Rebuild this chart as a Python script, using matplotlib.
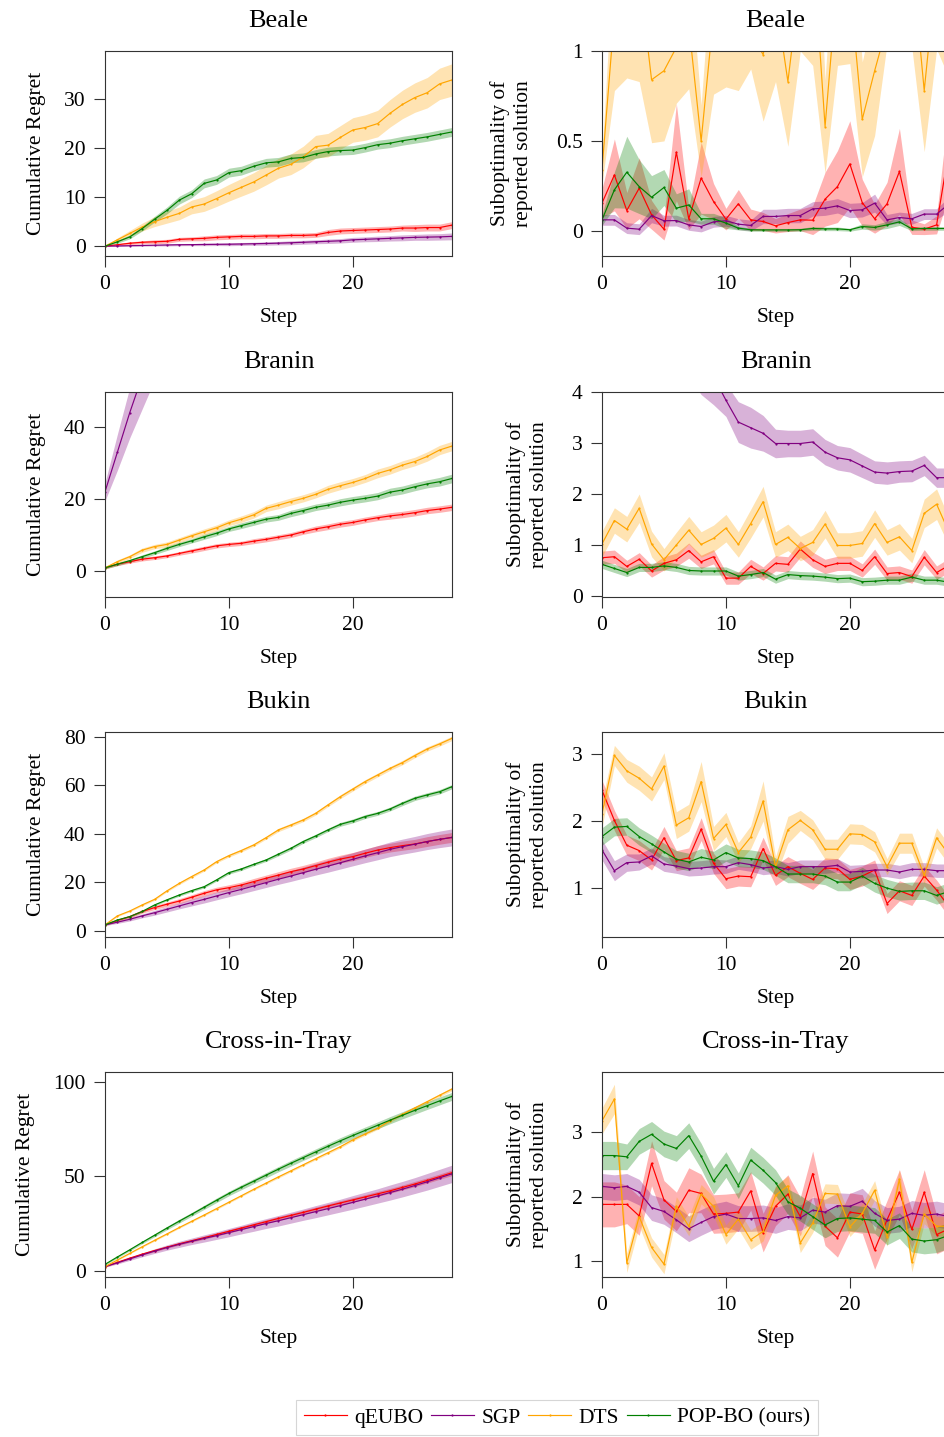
import numpy as np
import matplotlib
matplotlib.use("Agg")
from matplotlib import pyplot as plt

plt.rcParams['font.family'] = ['Liberation Serif', 'DejaVu Serif']
plt.rcParams['mathtext.fontset'] = 'stix'

steps = list(range(29))
methods = ['qEUBO', 'SGP', 'DTS', 'POP-BO (ours)']
colors = ['red', 'purple', 'orange', 'green']

# ---- Beale ----
beale_reg_qeubo = [0, 0.3, 0.6, 0.8, 0.9, 1.0, 1.4, 1.5, 1.6, 1.8, 1.9, 2.0, 2.0, 2.1, 2.1, 2.2, 2.2, 2.3, 2.8, 3.1, 3.2, 3.3, 3.4, 3.5, 3.7, 3.7, 3.8, 3.8, 4.3]
beale_reg_qeubo_sd = [0, 0.2, 0.3, 0.3, 0.4, 0.4, 0.4, 0.4, 0.5, 0.5, 0.5, 0.5, 0.5, 0.5, 0.5, 0.5, 0.5, 0.5, 0.6, 0.6, 0.6, 0.6, 0.6, 0.6, 0.6, 0.7, 0.7, 0.7, 0.7]
beale_reg_sgp = [0, 0.05, 0.1, 0.15, 0.2, 0.25, 0.3, 0.32, 0.35, 0.38, 0.4, 0.45, 0.5, 0.55, 0.62, 0.7, 0.8, 0.9, 1.0, 1.1, 1.3, 1.4, 1.5, 1.6, 1.7, 1.8, 1.85, 1.9, 2.0]
beale_reg_sgp_sd = [0, 0.1, 0.1, 0.15, 0.15, 0.2, 0.2, 0.2, 0.25, 0.25, 0.3, 0.3, 0.3, 0.35, 0.35, 0.4, 0.4, 0.4, 0.45, 0.45, 0.5, 0.5, 0.55, 0.55, 0.6, 0.6, 0.65, 0.65, 0.7]
beale_reg_dts = [0, 1.3, 2.6, 3.9, 5.0, 5.9, 6.7, 8.0, 8.6, 9.7, 10.9, 12.0, 13.1, 14.5, 15.9, 16.7, 18.2, 20.3, 20.6, 22.2, 23.7, 24.2, 25.0, 27.1, 28.9, 30.3, 31.3, 33.1, 33.9]
beale_reg_dts_sd = [0, 0.4, 0.6, 0.8, 1.0, 1.2, 1.3, 1.4, 1.5, 1.6, 1.7, 1.8, 1.9, 2.0, 2.0, 2.1, 2.2, 2.3, 2.4, 2.4, 2.5, 2.6, 2.7, 2.8, 2.9, 3.0, 3.1, 3.2, 3.3]
beale_reg_popbo = [0, 0.9, 1.9, 3.6, 5.5, 7.3, 9.4, 10.7, 12.8, 13.5, 15.0, 15.4, 16.3, 17.0, 17.2, 17.9, 18.1, 18.8, 19.3, 19.5, 19.6, 20.1, 20.7, 21.0, 21.5, 21.9, 22.3, 22.8, 23.3]
beale_reg_popbo_sd = [0, 0.3, 0.4, 0.5, 0.6, 0.7, 0.8, 0.8, 0.9, 0.9, 0.9, 0.9, 0.9, 0.9, 0.9, 0.9, 0.9, 0.9, 0.9, 0.9, 0.9, 0.9, 0.9, 0.9, 0.9, 0.9, 0.9, 0.9, 0.9]

beale_sub_qeubo = [0.154, 0.311, 0.113, 0.237, 0.089, 0.009, 0.437, 0.067, 0.293, 0.163, 0.065, 0.150, 0.061, 0.052, 0.028, 0.046, 0.061, 0.059, 0.176, 0.246, 0.372, 0.157, 0.067, 0.150, 0.330, 0.020, 0.009, 0.033, 0.45]
beale_sub_qeubo_sd = [0.08, 0.2, 0.1, 0.17, 0.08, 0.06, 0.27, 0.06, 0.2, 0.1, 0.06, 0.08, 0.06, 0.05, 0.04, 0.05, 0.06, 0.08, 0.15, 0.2, 0.24, 0.13, 0.08, 0.12, 0.24, 0.04, 0.03, 0.05, 0.25]
beale_sub_sgp = [0.061, 0.061, 0.015, 0.009, 0.085, 0.056, 0.057, 0.033, 0.024, 0.05, 0.056, 0.037, 0.030, 0.080, 0.080, 0.085, 0.085, 0.122, 0.126, 0.139, 0.113, 0.117, 0.154, 0.061, 0.074, 0.067, 0.093, 0.093, 0.15]
beale_sub_sgp_sd = [0.03, 0.03, 0.03, 0.03, 0.04, 0.03, 0.03, 0.03, 0.03, 0.03, 0.03, 0.03, 0.03, 0.04, 0.04, 0.04, 0.04, 0.04, 0.04, 0.04, 0.04, 0.04, 0.05, 0.03, 0.03, 0.03, 0.03, 0.03, 0.04]
beale_sub_dts = [0.34, 1.2, 1.15, 1.43, 0.84, 0.89, 1.02, 1.15, 0.50, 1.2, 1.15, 1.15, 1.1, 0.98, 1.3, 0.83, 1.4, 1.6, 0.58, 1.4, 1.36, 0.62, 0.89, 1.14, 1.3, 1.52, 0.78, 1.46, 1.3]
beale_sub_dts_sd = [0.08, 0.42, 0.30, 0.60, 0.35, 0.39, 0.31, 0.36, 0.20, 0.44, 0.35, 0.37, 0.20, 0.37, 0.47, 0.36, 0.4, 0.68, 0.26, 0.48, 0.43, 0.32, 0.36, 0.1, 0.2, 0.5, 0.34, 0.45, 0.45]
beale_sub_popbo = [0.061, 0.228, 0.326, 0.246, 0.187, 0.241, 0.126, 0.144, 0.067, 0.067, 0.043, 0.015, 0.006, 0.005, 0.005, 0.005, 0.006, 0.013, 0.011, 0.011, 0.006, 0.024, 0.019, 0.033, 0.05, 0.011, 0.013, 0.013, 0.013]
beale_sub_popbo_sd = [0.03, 0.1, 0.2, 0.15, 0.12, 0.1, 0.08, 0.09, 0.03, 0.03, 0.03, 0.01, 0.008, 0.008, 0.008, 0.008, 0.008, 0.01, 0.01, 0.01, 0.008, 0.015, 0.015, 0.02, 0.02, 0.01, 0.01, 0.01, 0.01]

# ---- Branin ----
branin_reg_qeubo = [0.9, 1.9, 2.6, 3.3, 3.7, 4.2, 4.9, 5.6, 6.3, 7.0, 7.4, 7.7, 8.3, 8.8, 9.4, 10.0, 10.9, 11.7, 12.3, 13.0, 13.5, 14.2, 14.8, 15.3, 15.7, 16.2, 16.8, 17.2, 17.7]
branin_reg_qeubo_sd = [0.3, 0.4, 0.4, 0.5, 0.5, 0.5, 0.5, 0.6, 0.6, 0.6, 0.6, 0.6, 0.7, 0.7, 0.7, 0.7, 0.7, 0.8, 0.8, 0.8, 0.8, 0.8, 0.8, 0.9, 0.9, 0.9, 0.9, 0.9, 0.9]
branin_reg_sgp = [22, 33, 44, 54, 63, 71, 79, 86, 93, 99, 105, 111, 116, 121, 126, 131, 135, 139, 143, 147, 151, 155, 158, 161, 164, 167, 170, 173, 176]
branin_reg_sgp_sd = [2.5, 5, 7, 9, 10, 11, 12, 13, 14, 15, 15, 16, 16, 17, 17, 18, 18, 18, 19, 19, 19, 20, 20, 20, 21, 21, 21, 22, 22]
branin_reg_dts = [0.9, 2.6, 4.0, 5.8, 6.8, 7.4, 8.6, 9.8, 10.9, 12.0, 13.4, 14.4, 15.6, 17.4, 18.3, 19.3, 20.2, 21.3, 22.7, 23.7, 24.6, 25.7, 27.1, 28.1, 29.4, 30.4, 31.8, 33.6, 34.7]
branin_reg_dts_sd = [0.3, 0.5, 0.5, 0.6, 0.6, 0.7, 0.7, 0.7, 0.8, 0.8, 0.8, 0.9, 0.9, 0.9, 1.0, 1.0, 1.0, 1.0, 1.1, 1.1, 1.1, 1.1, 1.2, 1.2, 1.2, 1.2, 1.3, 1.3, 1.3]
branin_reg_popbo = [0.9, 1.9, 2.9, 4.0, 5.1, 6.3, 7.4, 8.4, 9.5, 10.5, 11.7, 12.6, 13.5, 14.4, 14.9, 16.0, 16.8, 17.7, 18.3, 19.1, 19.7, 20.2, 20.8, 21.9, 22.5, 23.4, 24.2, 24.8, 25.7]
branin_reg_popbo_sd = [0.3, 0.4, 0.4, 0.5, 0.5, 0.6, 0.6, 0.6, 0.7, 0.7, 0.7, 0.8, 0.8, 0.8, 0.8, 0.9, 0.9, 0.9, 0.9, 1.0, 1.0, 1.0, 1.0, 1.1, 1.1, 1.1, 1.1, 1.2, 1.2]

branin_sub_qeubo = [0.75, 0.77, 0.58, 0.72, 0.49, 0.64, 0.71, 0.89, 0.67, 0.77, 0.35, 0.35, 0.58, 0.44, 0.64, 0.62, 0.92, 0.71, 0.58, 0.64, 0.64, 0.50, 0.77, 0.44, 0.46, 0.38, 0.76, 0.46, 0.6]
branin_sub_qeubo_sd = [0.13, 0.13, 0.12, 0.13, 0.12, 0.13, 0.13, 0.15, 0.13, 0.14, 0.12, 0.12, 0.14, 0.13, 0.15, 0.15, 0.16, 0.15, 0.14, 0.14, 0.14, 0.13, 0.15, 0.13, 0.13, 0.13, 0.15, 0.13, 0.14]
branin_sub_sgp = [8.5, 8.0, 7.5, 7.0, 6.5, 6.0, 5.5, 5.0, 4.6, 4.3, 3.84, 3.41, 3.30, 3.19, 2.99, 2.99, 2.99, 3.02, 2.82, 2.71, 2.67, 2.55, 2.43, 2.41, 2.44, 2.45, 2.56, 2.32, 2.32]
branin_sub_sgp_sd = [0.8, 0.8, 0.8, 0.8, 0.8, 0.8, 0.75, 0.7, 0.65, 0.55, 0.32, 0.4, 0.4, 0.35, 0.28, 0.26, 0.26, 0.26, 0.25, 0.24, 0.24, 0.23, 0.22, 0.22, 0.21, 0.21, 0.2, 0.19, 0.19]
branin_sub_dts = [1.02, 1.48, 1.31, 1.72, 1.02, 0.71, 1.00, 1.29, 1.01, 1.13, 1.33, 1.01, 1.42, 1.85, 1.01, 1.15, 0.93, 1.05, 1.41, 0.99, 0.99, 1.03, 1.42, 1.05, 1.16, 0.89, 1.62, 1.80, 1.25]
branin_sub_dts_sd = [0.25, 0.25, 0.25, 0.28, 0.25, 0.22, 0.25, 0.27, 0.25, 0.26, 0.27, 0.25, 0.28, 0.3, 0.25, 0.26, 0.24, 0.25, 0.27, 0.25, 0.25, 0.25, 0.27, 0.25, 0.26, 0.24, 0.28, 0.3, 0.27]
branin_sub_popbo = [0.62, 0.54, 0.46, 0.56, 0.56, 0.59, 0.56, 0.50, 0.49, 0.49, 0.49, 0.39, 0.42, 0.46, 0.33, 0.42, 0.40, 0.39, 0.37, 0.34, 0.35, 0.28, 0.29, 0.31, 0.31, 0.37, 0.31, 0.31, 0.27]
branin_sub_popbo_sd = [0.08, 0.08, 0.08, 0.08, 0.08, 0.08, 0.08, 0.08, 0.08, 0.08, 0.08, 0.08, 0.08, 0.08, 0.08, 0.08, 0.08, 0.08, 0.08, 0.08, 0.08, 0.08, 0.08, 0.08, 0.08, 0.08, 0.08, 0.08, 0.08]

# ---- Bukin ----
bukin_reg_qeubo = [2.5, 4.3, 5.9, 8.0, 9.6, 11.0, 12.3, 13.9, 15.5, 16.9, 17.8, 18.9, 20.3, 21.7, 23.0, 24.4, 25.5, 26.9, 28.3, 29.6, 30.6, 32.0, 33.3, 34.3, 35.1, 35.8, 36.8, 37.7, 38.5]
bukin_reg_qeubo_sd = [0.3, 0.5, 0.6, 0.7, 0.8, 0.9, 1.0, 1.0, 1.1, 1.1, 1.2, 1.2, 1.3, 1.3, 1.4, 1.4, 1.5, 1.5, 1.6, 1.6, 1.7, 1.7, 1.8, 1.8, 1.9, 1.9, 2.0, 2.0, 2.0]
bukin_reg_sgp = [2.5, 3.6, 4.8, 6.2, 7.5, 8.9, 10.3, 11.7, 13.0, 14.4, 15.8, 17.1, 18.5, 19.9, 21.3, 22.6, 24.0, 25.4, 26.7, 28.1, 29.5, 30.9, 32.2, 33.6, 34.7, 35.7, 36.8, 37.7, 38.5]
bukin_reg_sgp_sd = [0.3, 0.5, 0.7, 0.8, 1.0, 1.1, 1.2, 1.4, 1.5, 1.6, 1.7, 1.8, 1.9, 2.0, 2.1, 2.2, 2.3, 2.4, 2.5, 2.6, 2.7, 2.8, 2.9, 3.0, 3.1, 3.2, 3.3, 3.4, 3.5]
bukin_reg_dts = [2.5, 6.2, 8.2, 10.7, 13.0, 16.5, 19.6, 22.4, 25.1, 28.5, 31.0, 33.1, 35.4, 38.4, 41.6, 43.6, 45.7, 48.4, 51.9, 55.3, 58.4, 61.5, 64.2, 66.9, 69.3, 72.2, 74.9, 77.0, 79.3]
bukin_reg_dts_sd = [0.2, 0.3, 0.3, 0.4, 0.4, 0.4, 0.5, 0.5, 0.5, 0.5, 0.6, 0.6, 0.6, 0.6, 0.7, 0.7, 0.7, 0.7, 0.7, 0.8, 0.8, 0.8, 0.8, 0.8, 0.9, 0.9, 0.9, 0.9, 0.9]
bukin_reg_popbo = [2.5, 4.5, 5.9, 8.0, 10.7, 12.8, 14.8, 16.6, 18.2, 21.0, 24.0, 25.5, 27.4, 29.2, 31.6, 34.0, 36.8, 39.1, 41.6, 43.9, 45.3, 47.1, 48.4, 50.2, 52.5, 54.6, 56.0, 57.3, 59.4]
bukin_reg_popbo_sd = [0.2, 0.3, 0.3, 0.4, 0.4, 0.4, 0.5, 0.5, 0.5, 0.5, 0.6, 0.6, 0.6, 0.6, 0.7, 0.7, 0.7, 0.7, 0.7, 0.8, 0.8, 0.8, 0.8, 0.8, 0.9, 0.9, 0.9, 0.9, 0.9]

bukin_sub_qeubo = [2.46, 2.01, 1.64, 1.56, 1.42, 1.75, 1.41, 1.45, 1.88, 1.37, 1.14, 1.18, 1.17, 1.59, 1.19, 1.32, 1.22, 1.13, 1.30, 1.29, 1.13, 1.18, 1.27, 0.77, 0.96, 0.89, 1.18, 0.97, 0.72]
bukin_sub_qeubo_sd = [0.15, 0.15, 0.15, 0.15, 0.15, 0.17, 0.15, 0.15, 0.17, 0.15, 0.15, 0.15, 0.15, 0.17, 0.15, 0.15, 0.15, 0.15, 0.15, 0.15, 0.15, 0.15, 0.15, 0.15, 0.15, 0.15, 0.15, 0.15, 0.15]
bukin_sub_sgp = [1.57, 1.26, 1.38, 1.39, 1.48, 1.36, 1.33, 1.29, 1.30, 1.32, 1.32, 1.38, 1.35, 1.30, 1.32, 1.28, 1.32, 1.32, 1.32, 1.34, 1.24, 1.25, 1.27, 1.27, 1.24, 1.28, 1.28, 1.26, 1.26]
bukin_sub_sgp_sd = [0.15, 0.15, 0.13, 0.12, 0.12, 0.11, 0.11, 0.11, 0.11, 0.11, 0.1, 0.1, 0.1, 0.1, 0.1, 0.1, 0.1, 0.1, 0.1, 0.1, 0.1, 0.1, 0.1, 0.1, 0.1, 0.1, 0.1, 0.1, 0.1]
bukin_sub_dts = [2.11, 2.98, 2.75, 2.64, 2.48, 2.82, 1.94, 2.05, 2.59, 1.74, 1.95, 1.53, 1.76, 2.30, 1.32, 1.87, 2.01, 1.87, 1.58, 1.58, 1.81, 1.80, 1.69, 1.32, 1.67, 1.67, 1.19, 1.75, 1.5]
bukin_sub_dts_sd = [0.2, 0.15, 0.17, 0.18, 0.18, 0.2, 0.2, 0.2, 0.3, 0.18, 0.18, 0.15, 0.17, 0.3, 0.15, 0.2, 0.15, 0.15, 0.15, 0.15, 0.15, 0.15, 0.15, 0.12, 0.15, 0.15, 0.12, 0.15, 0.15]
bukin_sub_popbo = [1.77, 1.91, 1.92, 1.77, 1.66, 1.54, 1.43, 1.39, 1.46, 1.42, 1.53, 1.45, 1.44, 1.41, 1.32, 1.21, 1.21, 1.21, 1.18, 1.09, 1.09, 1.18, 1.07, 1.00, 0.95, 0.96, 0.96, 0.89, 0.95]
bukin_sub_popbo_sd = [0.13, 0.13, 0.13, 0.13, 0.13, 0.13, 0.13, 0.13, 0.13, 0.13, 0.13, 0.13, 0.13, 0.13, 0.13, 0.13, 0.13, 0.13, 0.13, 0.13, 0.13, 0.13, 0.13, 0.13, 0.13, 0.13, 0.13, 0.13, 0.13]

# ---- Cross-in-Tray ----
cross_reg_qeubo = [2.3, 4.6, 6.8, 8.9, 10.8, 12.6, 14.4, 16.0, 17.6, 19.3, 21.0, 22.7, 24.4, 26.1, 27.8, 29.4, 31.0, 32.7, 34.4, 36.0, 37.6, 39.2, 40.8, 42.4, 44.2, 46.0, 47.9, 49.9, 52.0]
cross_reg_qeubo_sd = [0.3, 0.4, 0.5, 0.5, 0.6, 0.6, 0.7, 0.7, 0.8, 0.8, 0.9, 0.9, 0.9, 1.0, 1.0, 1.0, 1.1, 1.1, 1.1, 1.2, 1.2, 1.2, 1.3, 1.3, 1.3, 1.4, 1.4, 1.4, 1.5]
cross_reg_sgp = [2.3, 4.3, 6.4, 8.5, 10.5, 12.4, 14.1, 15.7, 17.2, 18.7, 20.3, 21.9, 23.5, 25.1, 26.6, 28.2, 29.8, 31.4, 33.0, 34.6, 36.3, 38.0, 39.7, 41.5, 43.3, 45.2, 47.2, 49.3, 51.4]
cross_reg_sgp_sd = [0.3, 0.6, 0.8, 1.0, 1.2, 1.4, 1.6, 1.7, 1.9, 2.0, 2.2, 2.3, 2.5, 2.6, 2.8, 2.9, 3.0, 3.2, 3.3, 3.4, 3.6, 3.7, 3.8, 4.0, 4.1, 4.2, 4.4, 4.5, 4.6]
cross_reg_dts = [2.3, 5.8, 9.3, 12.8, 16.2, 19.6, 23.0, 26.3, 29.6, 33.0, 36.4, 39.8, 43.2, 46.5, 49.8, 53.0, 56.2, 59.4, 62.6, 65.8, 69.4, 72.5, 75.6, 79.5, 82.9, 86.3, 89.6, 93.0, 96.3]
cross_reg_dts_sd = [0.2, 0.3, 0.3, 0.3, 0.4, 0.4, 0.4, 0.4, 0.5, 0.5, 0.5, 0.5, 0.5, 0.6, 0.6, 0.6, 0.6, 0.6, 0.7, 0.7, 0.7, 0.7, 0.7, 0.8, 0.8, 0.8, 0.8, 0.8, 0.9]
cross_reg_popbo = [3.5, 7.4, 11.2, 15.1, 18.9, 22.7, 26.4, 30.0, 33.7, 37.4, 41.0, 44.3, 47.5, 50.7, 53.9, 57.0, 60.0, 63.0, 66.0, 68.9, 71.7, 74.4, 77.1, 79.8, 82.4, 85.0, 87.5, 90.0, 92.4]
cross_reg_popbo_sd = [0.4, 0.5, 0.6, 0.7, 0.8, 0.9, 1.0, 1.0, 1.1, 1.2, 1.2, 1.3, 1.3, 1.4, 1.4, 1.5, 1.5, 1.6, 1.6, 1.7, 1.7, 1.8, 1.8, 1.9, 1.9, 2.0, 2.0, 2.1, 2.1]

cross_sub_qeubo = [1.88, 1.88, 1.88, 1.70, 2.52, 1.95, 1.77, 2.10, 2.05, 1.73, 1.74, 1.76, 2.09, 1.44, 1.85, 2.04, 1.69, 2.36, 1.54, 1.36, 1.76, 1.73, 1.17, 1.64, 2.07, 1.49, 2.07, 1.41, 1.5]
cross_sub_qeubo_sd = [0.35, 0.35, 0.3, 0.3, 0.35, 0.3, 0.3, 0.35, 0.3, 0.3, 0.3, 0.3, 0.3, 0.3, 0.3, 0.3, 0.3, 0.35, 0.3, 0.3, 0.3, 0.3, 0.3, 0.3, 0.35, 0.3, 0.35, 0.3, 0.3]
cross_sub_sgp = [2.16, 2.14, 2.16, 2.07, 1.83, 1.77, 1.64, 1.50, 1.60, 1.69, 1.73, 1.66, 1.66, 1.67, 1.63, 1.69, 1.67, 1.79, 1.76, 1.86, 1.85, 1.93, 1.74, 1.63, 1.65, 1.74, 1.71, 1.73, 1.69]
cross_sub_sgp_sd = [0.2, 0.2, 0.2, 0.2, 0.2, 0.2, 0.2, 0.2, 0.2, 0.2, 0.2, 0.2, 0.2, 0.2, 0.2, 0.2, 0.2, 0.2, 0.2, 0.2, 0.2, 0.2, 0.2, 0.2, 0.2, 0.2, 0.2, 0.2, 0.2]
cross_sub_dts = [3.18, 3.52, 0.97, 1.69, 1.21, 0.95, 1.85, 1.54, 2.04, 1.85, 1.41, 1.65, 1.33, 1.46, 2.02, 2.17, 1.28, 1.59, 2.05, 2.04, 1.53, 1.74, 2.10, 1.38, 2.27, 0.98, 1.73, 1.54, 1.54]
cross_sub_dts_sd = [0.2, 0.23, 0.15, 0.15, 0.15, 0.15, 0.15, 0.15, 0.15, 0.15, 0.15, 0.15, 0.15, 0.15, 0.15, 0.15, 0.15, 0.15, 0.15, 0.15, 0.15, 0.15, 0.15, 0.15, 0.15, 0.15, 0.15, 0.15, 0.15]
cross_sub_popbo = [2.64, 2.64, 2.62, 2.86, 2.97, 2.82, 2.75, 2.95, 2.63, 2.24, 2.50, 2.17, 2.57, 2.41, 2.22, 1.92, 1.82, 1.69, 1.56, 1.66, 1.67, 1.65, 1.63, 1.45, 1.55, 1.34, 1.31, 1.33, 1.40]
cross_sub_popbo_sd = [0.22, 0.22, 0.2, 0.2, 0.2, 0.2, 0.2, 0.2, 0.2, 0.2, 0.2, 0.2, 0.2, 0.2, 0.2, 0.2, 0.2, 0.2, 0.2, 0.2, 0.2, 0.2, 0.2, 0.2, 0.2, 0.2, 0.2, 0.2, 0.2]

# (title, regret series, suboptimality series, left ylim, left yticks, right ylim, right yticks)
panels = [
    ('Beale',
     [(beale_reg_qeubo, beale_reg_qeubo_sd), (beale_reg_sgp, beale_reg_sgp_sd),
      (beale_reg_dts, beale_reg_dts_sd), (beale_reg_popbo, beale_reg_popbo_sd)],
     [(beale_sub_qeubo, beale_sub_qeubo_sd), (beale_sub_sgp, beale_sub_sgp_sd),
      (beale_sub_dts, beale_sub_dts_sd), (beale_sub_popbo, beale_sub_popbo_sd)],
     (-2.0, 39.8), [0, 10, 20, 30], (-0.14, 1.0), [0, 0.5, 1]),
    ('Branin',
     [(branin_reg_qeubo, branin_reg_qeubo_sd), (branin_reg_sgp, branin_reg_sgp_sd),
      (branin_reg_dts, branin_reg_dts_sd), (branin_reg_popbo, branin_reg_popbo_sd)],
     [(branin_sub_qeubo, branin_sub_qeubo_sd), (branin_sub_sgp, branin_sub_sgp_sd),
      (branin_sub_dts, branin_sub_dts_sd), (branin_sub_popbo, branin_sub_popbo_sd)],
     (-7.2, 49.7), [0, 20, 40], (-0.02, 4.0), [0, 1, 2, 3, 4]),
    ('Bukin',
     [(bukin_reg_qeubo, bukin_reg_qeubo_sd), (bukin_reg_sgp, bukin_reg_sgp_sd),
      (bukin_reg_dts, bukin_reg_dts_sd), (bukin_reg_popbo, bukin_reg_popbo_sd)],
     [(bukin_sub_qeubo, bukin_sub_qeubo_sd), (bukin_sub_sgp, bukin_sub_sgp_sd),
      (bukin_sub_dts, bukin_sub_dts_sd), (bukin_sub_popbo, bukin_sub_popbo_sd)],
     (-2.5, 81.9), [0, 20, 40, 60, 80], (0.27, 3.33), [1, 2, 3]),
    ('Cross-in-Tray',
     [(cross_reg_qeubo, cross_reg_qeubo_sd), (cross_reg_sgp, cross_reg_sgp_sd),
      (cross_reg_dts, cross_reg_dts_sd), (cross_reg_popbo, cross_reg_popbo_sd)],
     [(cross_sub_qeubo, cross_sub_qeubo_sd), (cross_sub_sgp, cross_sub_sgp_sd),
      (cross_sub_dts, cross_sub_dts_sd), (cross_sub_popbo, cross_sub_popbo_sd)],
     (-3.2, 105.3), [0, 50, 100], (0.75, 3.94), [1, 2, 3]),
]

FS = 15.5
W, H = 945, 1437
fig = plt.figure(figsize=(W / 100, H / 100), dpi=100)

def style_axis(ax, title, ylabel, ylim, yticks, ylabelpad):
    ax.set_xlim(0, 28)
    ax.set_ylim(*ylim)
    ax.set_xticks([0, 10, 20])
    ax.set_yticks(yticks)
    ax.set_yticklabels([('%g' % t) for t in yticks])
    ax.tick_params(direction='out', length=8, width=0.8, pad=6, labelsize=FS,
                   top=False, right=False, color='#333333')
    for sp in ax.spines.values():
        sp.set_linewidth(0.8)
        sp.set_color('#333333')
    ax.set_title(title, fontsize=19, pad=17)
    ax.set_xlabel('Step', fontsize=FS, labelpad=10)
    ax.set_ylabel(ylabel, fontsize=FS, labelpad=ylabelpad, linespacing=1.25)

def draw_series(ax, series):
    lines = []
    for (mean, sd), c, name in zip(series, colors, methods):
        m = np.array(mean)
        s = np.array(sd)
        ax.fill_between(steps, m - s, m + s, color=c, alpha=0.3, linewidth=0)
        ln, = ax.plot(steps, m, color=c, lw=0.85, marker='o', ms=1.6, mew=0,
                      label=name)
        lines.append(ln)
    return lines

row_bottoms = [256, 597, 937, 1277]
for (title, reg, sub, ylim_l, yt_l, ylim_r, yt_r), yb in zip(panels, row_bottoms):
    axl = fig.add_axes([105 / W, 1 - yb / H, 347 / W, 205 / H])
    handles = draw_series(axl, reg)
    style_axis(axl, title, 'Cumulative Regret', ylim_l, yt_l, 13)

    axr = fig.add_axes([602 / W, 1 - yb / H, 347 / W, 205 / H])
    draw_series(axr, sub)
    style_axis(axr, title, 'Suboptimality of\nreported solution', ylim_r, yt_r, 16.5)

leg = fig.legend(handles, methods, loc='upper center', ncol=4,
                 bbox_to_anchor=(557 / W, 1 - 1400 / H), fontsize=FS,
                 frameon=True, fancybox=False, edgecolor='#cccccc',
                 handlelength=2.0, handletextpad=0.35, columnspacing=0.35,
                 borderpad=0.35, borderaxespad=0)
leg.get_frame().set_linewidth(0.8)

fig.savefig('out.png', dpi=100)
